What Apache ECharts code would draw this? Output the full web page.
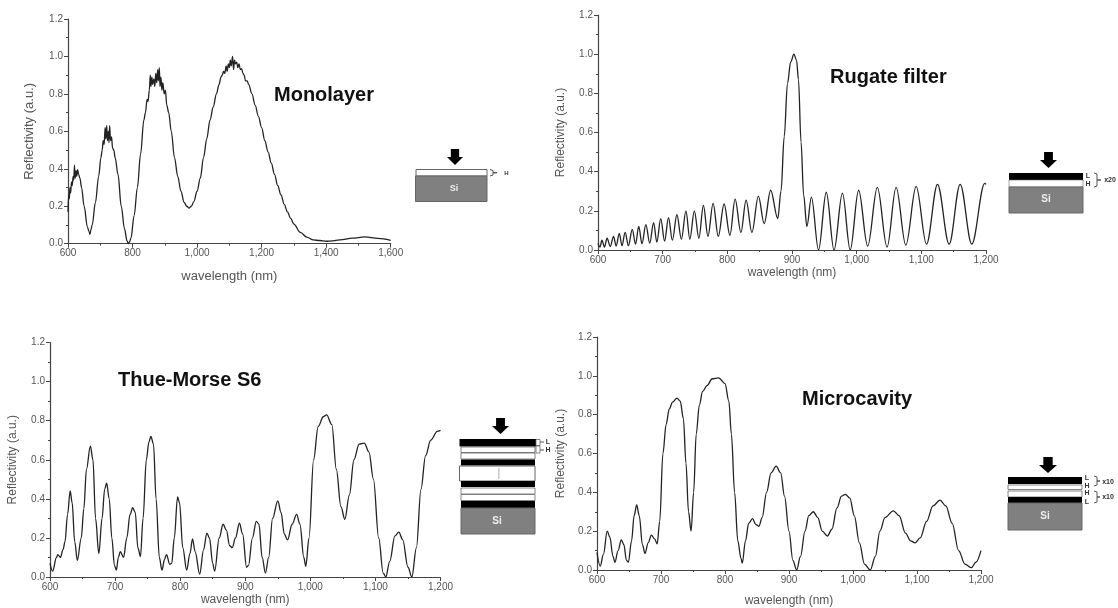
<!DOCTYPE html>
<html>
<head>
<meta charset="utf-8">
<style>html,body{margin:0;padding:0;background:#fff}#c{width:1118px;height:608px}</style>
<script src="https://cdn.jsdelivr.net/npm/echarts@6/dist/echarts.min.js"></script>
</head>
<body>
<div id="c"></div>
<script>
const panelTitles = ['Monolayer','Rugate filter','Thue-Morse S6','Microcavity'];
const xAxisName = 'wavelength (nm)';
const yAxisName = 'Reflectivity (a.u.)';

const monolayerCurve = [[600,.17],[602,.26],[604,.24],[606,.3],[608,.27],[611,.33],[613,.31],[616,.36],[618,.34],[620,.42],[622,.35],[625,.39],[627,.36],[630,.395],[633,.37],[637,.35],[642,.3],[650,.2],[660,.09],[665,.065],[668,.05],[671,.075],[675,.1],[685,.22],[695,.36],[702,.46],[706,.5],[709,.55],[712,.53],[715,.62],[717,.56],[720,.63],[722,.55],[725,.6],[727,.54],[729,.63],[732,.55],[735,.57],[738,.51],[742,.5],[746,.46],[755,.37],[765,.2],[775,.08],[783,.015],[787,0],[791,.01],[795,.03],[805,.15],[815,.3],[825,.48],[835,.66],[840,.7],[845,.77],[848,.76],[852,.82],[855,.9],[857,.84],[860,.89],[862,.85],[866,.88],[869,.84],[872,.91],[875,.86],[878,.93],[880,.87],[883,.94],[885,.84],[888,.89],[891,.82],[894,.86],[898,.8],[902,.82],[906,.74],[912,.7],[920,.6],[930,.46],[940,.36],[950,.28],[960,.22],[968,.2],[975,.19],[982,.2],[990,.225],[1000,.28],[1010,.35],[1020,.46],[1030,.56],[1040,.66],[1050,.73],[1060,.8],[1068,.85],[1074,.89],[1078,.9],[1082,.92],[1086,.91],[1090,.95],[1093,.92],[1097,.96],[1100,.94],[1103,.98],[1106,.95],[1110,1],[1113,.93],[1116,.98],[1119,.96],[1123,.97],[1126,.94],[1130,.96],[1134,.93],[1138,.935],[1142,.91],[1146,.9],[1150,.87],[1155,.87],[1160,.85],[1170,.8],[1180,.74],[1190,.68],[1200,.62],[1210,.55],[1220,.49],[1230,.43],[1240,.37],[1250,.31],[1260,.26],[1270,.21],[1280,.17],[1290,.135],[1300,.105],[1320,.06],[1340,.035],[1360,.02],[1380,.017],[1400,.013],[1420,.015],[1450,.022],[1480,.03],[1520,.036],[1560,.028],[1600,.018]];

const rugateCurve = [[600,.035],[603,.015],[606,.05],[610,.015],[614,.06],[619,.018],[624,.07],[628,.02],[633,.085],[637,.022],[642,.09],[647,.022],[653,.105],[658,.03],[663,.12],[668,.032],[674,.13],[680,.035],[686,.14],[691,.04],[697,.16],[703,.045],[709,.165],[715,.05],[722,.18],[729,.055],[736,.2],[742,.055],[749,.2],[756,.06],[763,.228],[770,.07],[778,.238],[786,.07],[795,.235],[804,.075],[812,.26],[821,.09],[829,.255],[838,.09],[848,.275],[857,.135],[867,.305],[878,.16],[883,.3],[888,.58],[893,.85],[898,.96],[903,1],[907,.97],[910,.87],[914,.55],[918,.28],[923,.12],[930,.27],[941,0],[953,.295],[965,0],[978,.29],[990,0],[1003,.305],[1017,.02],[1032,.32],[1047,.015],[1061,.32],[1076,.025],[1092,.325],[1108,.03],[1125,.335],[1143,.03],[1160,.335],[1178,.03],[1198,.34],[1200,.335]];

const thueMorseCurve = [[600,.07],[604,.03],[610,.1],[612,.115],[616,.1],[620,.14],[623,.18],[627,.32],[631,.44],[634,.38],[638,.18],[642,.085],[648,.2],[652,.35],[656,.55],[662,.67],[666,.6],[670,.3],[675,.12],[680,.3],[684,.45],[687,.48],[691,.4],[695,.2],[699,.06],[702,.035],[705,.1],[708,.13],[713,.1],[718,.2],[723,.32],[727,.355],[731,.33],[735,.15],[739,.105],[743,.3],[748,.6],[752,.69],[755,.72],[759,.68],[763,.4],[768,.1],[772,.035],[776,.09],[779,.115],[784,.065],[787,.07],[791,.2],[796,.41],[799,.38],[804,.15],[810,.035],[815,.12],[819,.195],[823,.13],[830,.015],[836,.14],[841,.225],[845,.2],[850,.07],[853,.03],[860,.2],[866,.27],[871,.24],[876,.16],[880,.15],[885,.2],[891,.275],[896,.22],[902,.05],[905,.06],[911,.2],[917,.285],[921,.27],[926,.1],[931,.02],[936,.1],[942,.3],[950,.39],[955,.33],[960,.22],[965,.19],[972,.27],[979,.32],[984,.27],[990,.1],[993,.055],[998,.2],[1005,.6],[1012,.77],[1020,.82],[1025,.83],[1033,.78],[1040,.55],[1047,.36],[1053,.295],[1060,.42],[1067,.6],[1075,.68],[1083,.685],[1090,.64],[1097,.5],[1105,.2],[1112,.02],[1116,0],[1122,.08],[1130,.21],[1136,.23],[1142,.19],[1150,.05],[1156,0],[1163,.15],[1170,.45],[1177,.62],[1185,.7],[1195,.745],[1200,.75]];

const microcavityCurve = [[600,.09],[605,.02],[610,.08],[616,.2],[620,.17],[625,.07],[628,.04],[633,.1],[638,.155],[642,.13],[646,.05],[649,.04],[654,.15],[658,.28],[662,.335],[666,.28],[671,.13],[675,.085],[680,.14],[685,.18],[690,.16],[694,.135],[698,.25],[703,.6],[708,.75],[713,.83],[718,.865],[725,.885],[730,.87],[735,.78],[739,.55],[743,.3],[747,.2],[751,.4],[755,.7],[760,.85],[765,.92],[772,.95],[780,.985],[790,.99],[800,.96],[806,.87],[810,.7],[815,.4],[820,.15],[825,.06],[827,.035],[832,.15],[837,.24],[843,.265],[848,.235],[853,.225],[858,.27],[865,.4],[872,.5],[880,.535],[887,.5],[893,.38],[900,.2],[906,.05],[912,0],[918,.07],[925,.2],[931,.28],[938,.3],[945,.27],[952,.2],[960,.175],[967,.21],[975,.32],[982,.38],[988,.39],[995,.37],[1002,.28],[1010,.14],[1018,.03],[1027,0],[1035,.07],[1042,.2],[1050,.27],[1063,.305],[1072,.28],[1082,.19],[1090,.15],[1097,.14],[1105,.165],[1115,.25],[1125,.33],[1136,.36],[1145,.33],[1155,.24],[1165,.1],[1175,.03],[1185,.012],[1192,.04],[1200,.1]];

const curves = [monolayerCurve, rugateCurve, thueMorseCurve, microcavityCurve];
const xMax = [1600,1200,1200,1200];
const xStep = [200,100,100,100];

const grids = [
  {left:68,top:19,width:322.7,height:224.7},
  {left:598,top:15,width:388,height:235},
  {left:50,top:342.5,width:390.5,height:234.5},
  {left:597,top:337,width:384,height:235}
];
const axisColor = '#444', textColor = '#555';
const nameSize = [13,12,12,12];
const nameGapX = [26,17,17,25];
const nameGapY = [32,31,31,30];
const titlePos = [[274,85],[830,67],[118,370],[802,389]];

const option = {
  animation:false,
  backgroundColor:'#fff',
  textStyle:{fontFamily:'"Liberation Sans",Arial,sans-serif'},
  title:panelTitles.map((t,i)=>({text:t,left:titlePos[i][0],top:titlePos[i][1],padding:0,
    textStyle:{fontSize:20,fontWeight:'bold',color:'#111',fontFamily:'"Liberation Sans",Arial,sans-serif'}})),
  grid:grids,
  xAxis:grids.map((g,i)=>({type:'value',gridIndex:i,min:600,max:xMax[i],interval:xStep[i],
    name:xAxisName,nameLocation:'middle',nameGap:nameGapX[i],
    nameTextStyle:{fontSize:nameSize[i],color:textColor},
    axisLine:{show:true,onZero:false,lineStyle:{color:axisColor,width:1.2}},
    axisTick:{show:true,length:4,lineStyle:{color:axisColor}},
    minorTick:{show:true,splitNumber:2,length:2,lineStyle:{color:axisColor}},
    splitLine:{show:false},
    axisLabel:{fontSize:10,color:textColor,margin:5}})),
  yAxis:grids.map((g,i)=>({type:'value',gridIndex:i,min:0,max:1.2,interval:.2,
    name:yAxisName,nameLocation:'middle',nameGap:nameGapY[i],
    nameTextStyle:{fontSize:nameSize[i],color:textColor},
    axisLine:{show:true,onZero:false,lineStyle:{color:axisColor,width:1.2}},
    axisTick:{show:true,length:4,lineStyle:{color:axisColor}},
    minorTick:{show:true,splitNumber:2,length:2,lineStyle:{color:axisColor}},
    splitLine:{show:false},
    axisLabel:{fontSize:10,color:textColor,margin:5,formatter:v=>v.toFixed(1)}})),
  series:curves.map((d,i)=>({type:'line',xAxisIndex:i,yAxisIndex:i,data:d,showSymbol:false,
    smooth:.35,smoothMonotone:'x',sampling:null,clip:false,
    lineStyle:{color:'#222',width:1.3}})),
  graphic:{elements:[]}
};

/* layer-stack schematics beside each panel */
const G = option.graphic.elements;
const rect=(x,y,w,h,fill,stroke,lw)=>G.push({type:'rect',shape:{x,y,width:w,height:h},style:{fill,stroke:stroke||null,lineWidth:lw||1}});
const label=(x,y,text,size,color,align)=>G.push({type:'text',x,y,style:{text,fontSize:size,fontWeight:'bold',fill:color||'#333',align:align||'center',verticalAlign:'middle',fontFamily:'"Liberation Sans",Arial,sans-serif'}});
const arrow=(x0,x1,y0,ym,y1)=>{const c=(x0+x1)/2,s=(x1-x0)*.26;
  G.push({type:'polygon',shape:{points:[[c-s,y0],[c+s,y0],[c+s,ym],[x1,ym],[c,y1],[x0,ym],[c-s,ym]]},style:{fill:'#000'}});};
const brace=(x,y0,y1,tip)=>G.push({type:'polyline',shape:{points:[[x,y0],[x+3,y0+1],[x+3,(y0+y1)/2],[x+tip,(y0+y1)/2],[x+3,(y0+y1)/2],[x+3,y1-1],[x,y1]]},style:{fill:null,stroke:'#555',lineWidth:1}});

// Monolayer
arrow(447,463,149,157,165);
rect(416,169.5,71,6.5,'#fff','#666',1);
rect(415.5,176,71.5,25.5,'#808080','#666',1);
label(454,189,'Si',9,'#eee');
brace(490,169.5,176,7); label(506.5,173,'H',6,'#333');

// Rugate
arrow(1040,1057,152,160,168);
rect(1009,173,74,7,'#000');
rect(1009,180,74,7,'#fff','#666',.6);
rect(1009,187,74,26,'#808080','#666',1);
label(1046,199.5,'Si',10,'#eee');
label(1088,176,'L',7); label(1088,184,'H',7);
brace(1094,173,187,7); label(1110,180,'x20',7);

// Thue-Morse
arrow(492,509,418,426,434);
rect(459.5,439,76.5,7.5,'#000');
rect(461,447,74,5.5,'#fff','#666',.8);
rect(461,453,74,6,'#fff','#666',.8);
rect(461,459.5,74,6,'#000');
rect(459.5,466,75.5,15,'#fff','#666',1);
rect(498.5,468,.8,11,'#999');
rect(461,481,74,6,'#000');
rect(461,488,74,6,'#fff','#666',.8);
rect(461,494.5,74,6,'#fff','#666',.8);
rect(461,501,74,7,'#000');
rect(461,508,74,26,'#808080','#666',1);
label(497,521,'Si',10,'#eee');
rect(536,439.5,4,6,'#fff','#666',.8); rect(536,446,4,7,'#fff','#666',.8);
G.push({type:'line',shape:{x1:540,y1:442,x2:544,y2:442},style:{stroke:'#555'}});
G.push({type:'line',shape:{x1:540,y1:450,x2:544,y2:450},style:{stroke:'#555'}});
label(548,442,'L',7); label(548,450,'H',7);

// Microcavity
arrow(1039,1057,457,465,473);
rect(1008,477,74,7,'#000');
rect(1008,485,74,4.5,'#fff','#666',.8);
rect(1008,491,74,6,'#fff','#666',.8);
rect(1008,497,74,6,'#000');
rect(1008,503,74,27,'#808080','#666',1);
label(1045,516.5,'Si',10,'#eee');
label(1087,478,'L',7); label(1087,486,'H',7); label(1087,493,'H',7); label(1087,502,'L',7);
brace(1094,476,486,6); label(1108,482,'x10',7);
brace(1094,491,503,6); label(1108,497,'x10',7);

echarts.init(document.getElementById('c'),null,{renderer:'canvas'}).setOption(option);
</script>
</body>
</html>
